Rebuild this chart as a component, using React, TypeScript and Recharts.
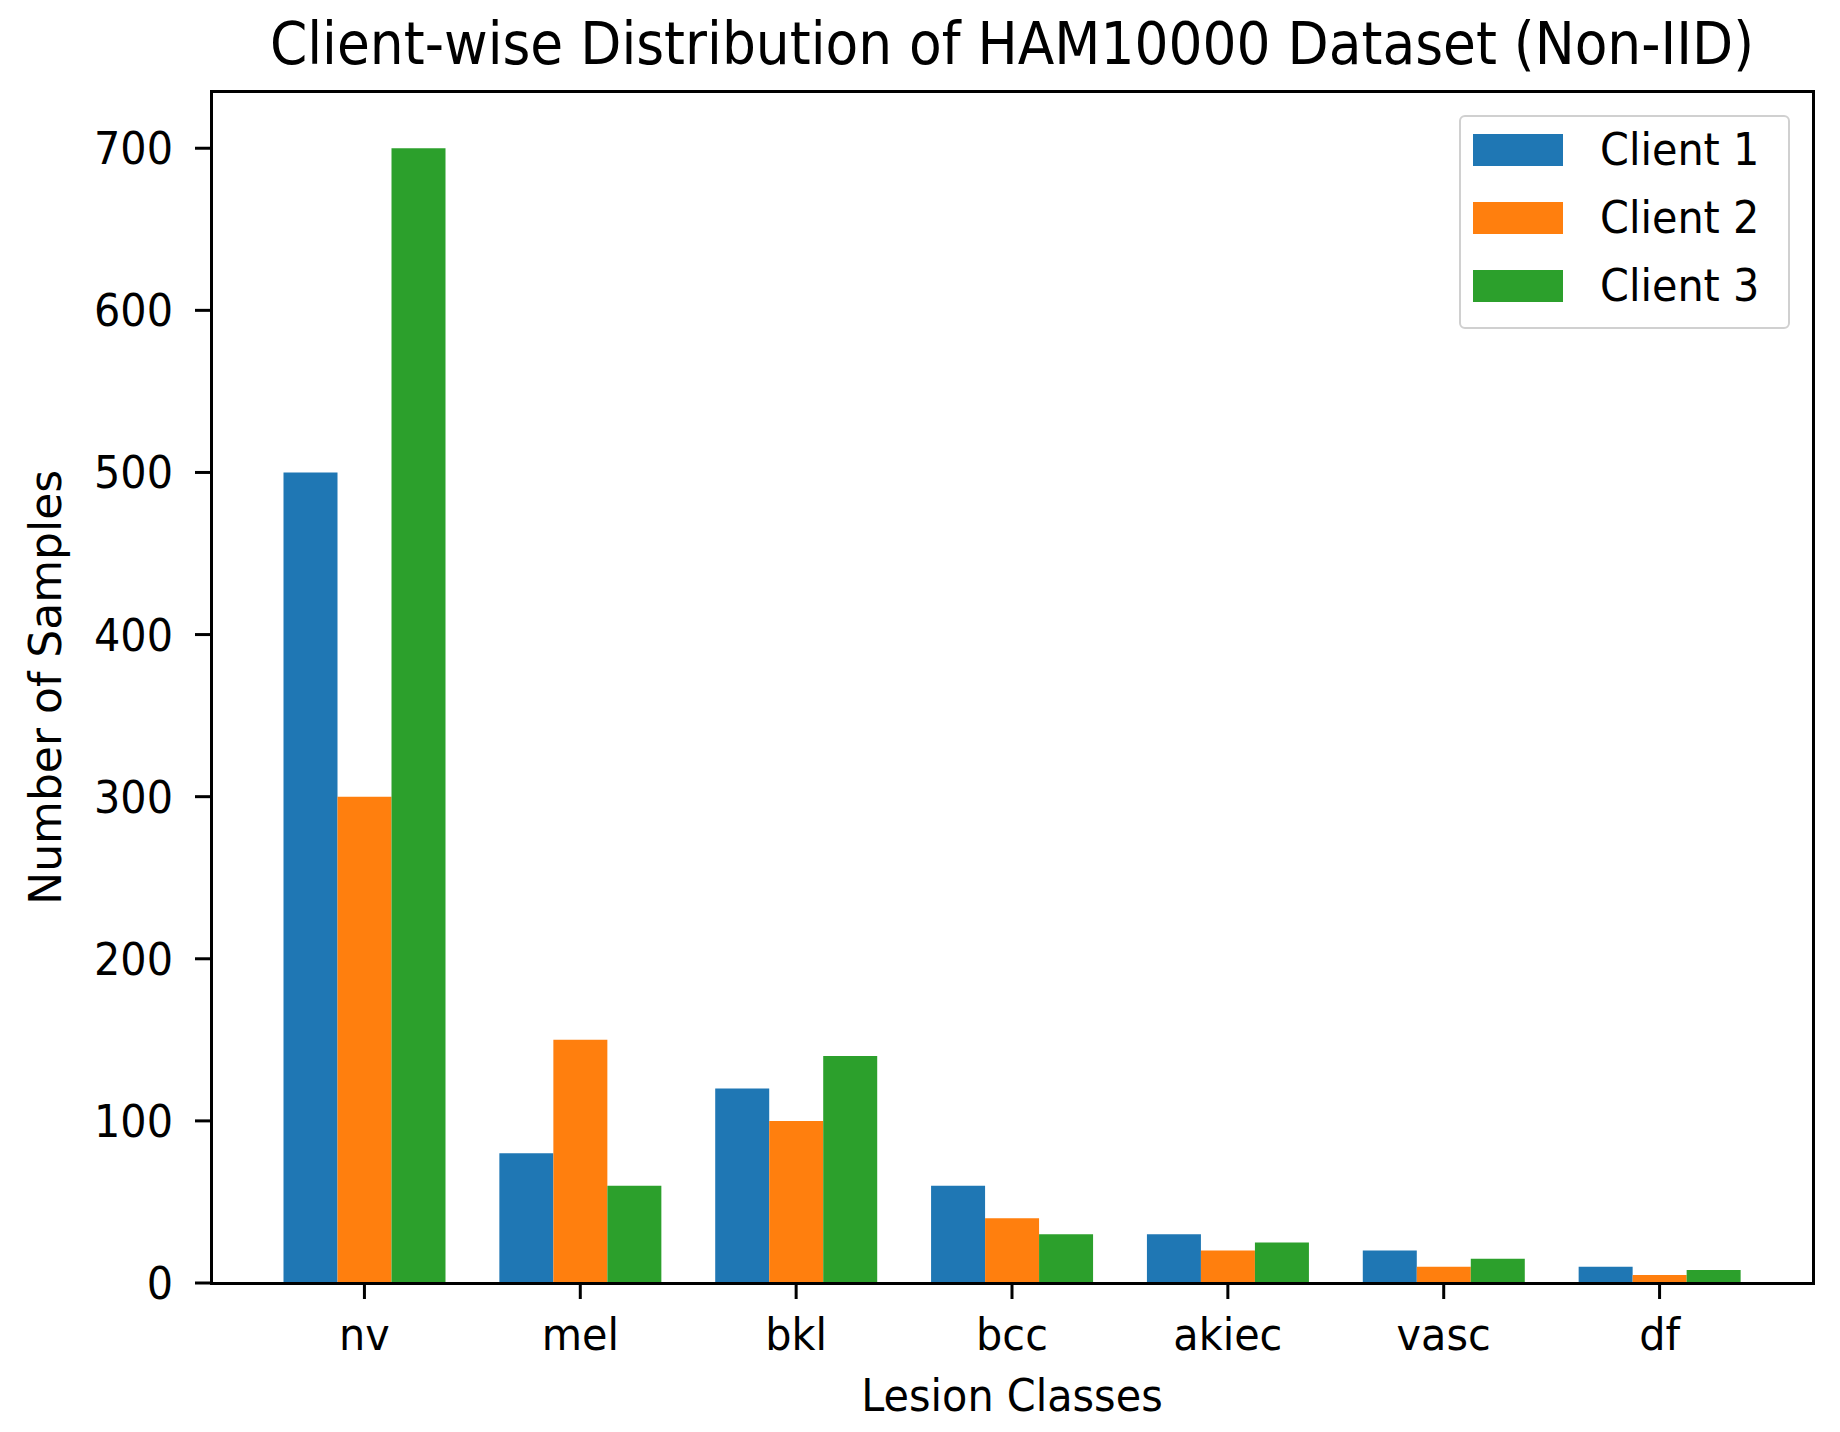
import { BarChart, Bar, XAxis, YAxis, Legend, Label } from 'recharts'

// lesion classes on the x axis
const classes = ['nv', 'mel', 'bkl', 'bcc', 'akiec', 'vasc', 'df']
// samples per class for each client
const client1 = [500, 80, 120, 60, 30, 20, 10]
const client2 = [300, 150, 100, 40, 20, 10, 5]
const client3 = [700, 60, 140, 30, 25, 15, 8]
const clientNames = ['Client 1', 'Client 2', 'Client 3']
const clientColors = ['#1f77b4', '#ff7f0e', '#2ca02c']
const yTicks = [0, 100, 200, 300, 400, 500, 600, 700]

const data = classes.map((name, i) => ({
  name,
  c1: client1[i],
  c2: client2[i],
  c3: client3[i],
}))

const FONT = "'DejaVu Sans', sans-serif"
const SX = 0.92 // the picture's text is a bit narrow

// plot box (matplotlib axes)
const PLOT_LEFT = 211
const PLOT_TOP = 91.5
const PLOT_RIGHT = 1813
const PLOT_BOTTOM = 1283
const PLOT_CX = (PLOT_LEFT + PLOT_RIGHT) / 2

const squeeze = (x: number, y: number) => `translate(${x},${y}) scale(${SX},1) translate(${-x},${-y})`

const XTick = ({ x, y, payload }: any) => (
  <text
    x={x}
    y={y + 51}
    transform={squeeze(x, y + 51)}
    textAnchor="middle"
    fontSize={45}
    fontFamily={FONT}
    fill="#000"
  >
    {payload.value}
  </text>
)

const YTick = ({ x, y, payload }: any) => (
  <text
    x={x}
    y={y + 16}
    transform={squeeze(x, y + 16)}
    textAnchor="end"
    fontSize={45}
    fontFamily={FONT}
    fill="#000"
  >
    {payload.value}
  </text>
)

const LegendBox = () => (
  <div
    style={{
      position: 'absolute',
      left: 1459,
      top: 115,
      width: 331,
      height: 214,
      boxSizing: 'border-box',
      border: '2px solid #d0d0d0',
      borderRadius: 6,
      background: 'rgba(255,255,255,0.8)',
      fontFamily: FONT,
    }}
  >
    {clientNames.map((n, i) => (
      <div
        key={n}
        style={{ position: 'absolute', left: 12, top: 16 + i * 68, height: 34, display: 'flex', alignItems: 'center' }}
      >
        <div style={{ width: 90, height: 32, background: clientColors[i] }} />
        <span
          style={{
            marginLeft: 37,
            fontSize: 45,
            color: '#000',
            lineHeight: '34px',
            display: 'inline-block',
            transform: `scaleX(${SX})`,
            transformOrigin: 'left center',
            whiteSpace: 'nowrap',
          }}
        >
          {n}
        </span>
      </div>
    ))}
  </div>
)

export default function App() {
  return (
    <div style={{ position: 'absolute', left: 0, top: 0, width: 1840, height: 1432, background: '#fff', fontFamily: FONT }}>
      <div
        style={{
          position: 'absolute',
          left: PLOT_CX - 1000,
          width: 2000,
          top: 14,
          textAlign: 'center',
          fontSize: 59,
          lineHeight: '59px',
          color: '#000',
          whiteSpace: 'nowrap',
          transform: 'scaleX(0.906)',
          transformOrigin: 'center',
        }}
      >
        Client-wise Distribution of HAM10000 Dataset (Non-IID)
      </div>
      <BarChart
        width={1840}
        height={1432}
        data={data}
        barGap={0}
        margin={{ top: PLOT_TOP, right: 1840 - PLOT_RIGHT, bottom: 0, left: 0 }}
      >
        <XAxis
          dataKey="name"
          height={1432 - PLOT_BOTTOM}
          padding={{ left: 45.5, right: 45.5 }}
          axisLine={false}
          tickLine={{ stroke: '#000', strokeWidth: 3 }}
          tickSize={16}
          tickMargin={0}
          tick={<XTick />}
          interval={0}
        >
          <Label
            content={({ viewBox }: any) => {
              const cx = viewBox.x + viewBox.width / 2
              return (
                <text
                  x={cx}
                  y={1411}
                  transform={squeeze(cx, 1411)}
                  textAnchor="middle"
                  fontSize={45}
                  fontFamily={FONT}
                  fill="#000"
                >
                  Lesion Classes
                </text>
              )
            }}
          />
        </XAxis>
        <YAxis
          width={PLOT_LEFT}
          domain={[0, 735]}
          ticks={yTicks}
          allowDataOverflow
          axisLine={false}
          tickLine={{ stroke: '#000', strokeWidth: 3 }}
          tickSize={16}
          tickMargin={22}
          tick={<YTick />}
        >
          <Label
            content={({ viewBox }: any) => {
              const cy = viewBox.y + viewBox.height / 2
              return (
                <text
                  x={45}
                  y={cy}
                  transform={`rotate(-90, 45, ${cy})`}
                  textAnchor="middle"
                  dominantBaseline="central"
                  fontSize={44}
                  fontFamily={FONT}
                  fill="#000"
                >
                  Number of Samples
                </text>
              )
            }}
          />
        </YAxis>
        <Legend content={() => null} />
        <Bar dataKey="c1" name={clientNames[0]} fill={clientColors[0]} barSize={54} isAnimationActive={false} />
        <Bar dataKey="c2" name={clientNames[1]} fill={clientColors[1]} barSize={54} isAnimationActive={false} />
        <Bar dataKey="c3" name={clientNames[2]} fill={clientColors[2]} barSize={54} isAnimationActive={false} />
      </BarChart>
      {/* axes frame */}
      <div
        style={{
          position: 'absolute',
          left: PLOT_LEFT - 1.5,
          top: PLOT_TOP - 1.5,
          width: PLOT_RIGHT - PLOT_LEFT + 3,
          height: PLOT_BOTTOM - PLOT_TOP + 3,
          boxSizing: 'border-box',
          border: '3px solid #000',
          pointerEvents: 'none',
        }}
      />
      <LegendBox />
    </div>
  )
}
